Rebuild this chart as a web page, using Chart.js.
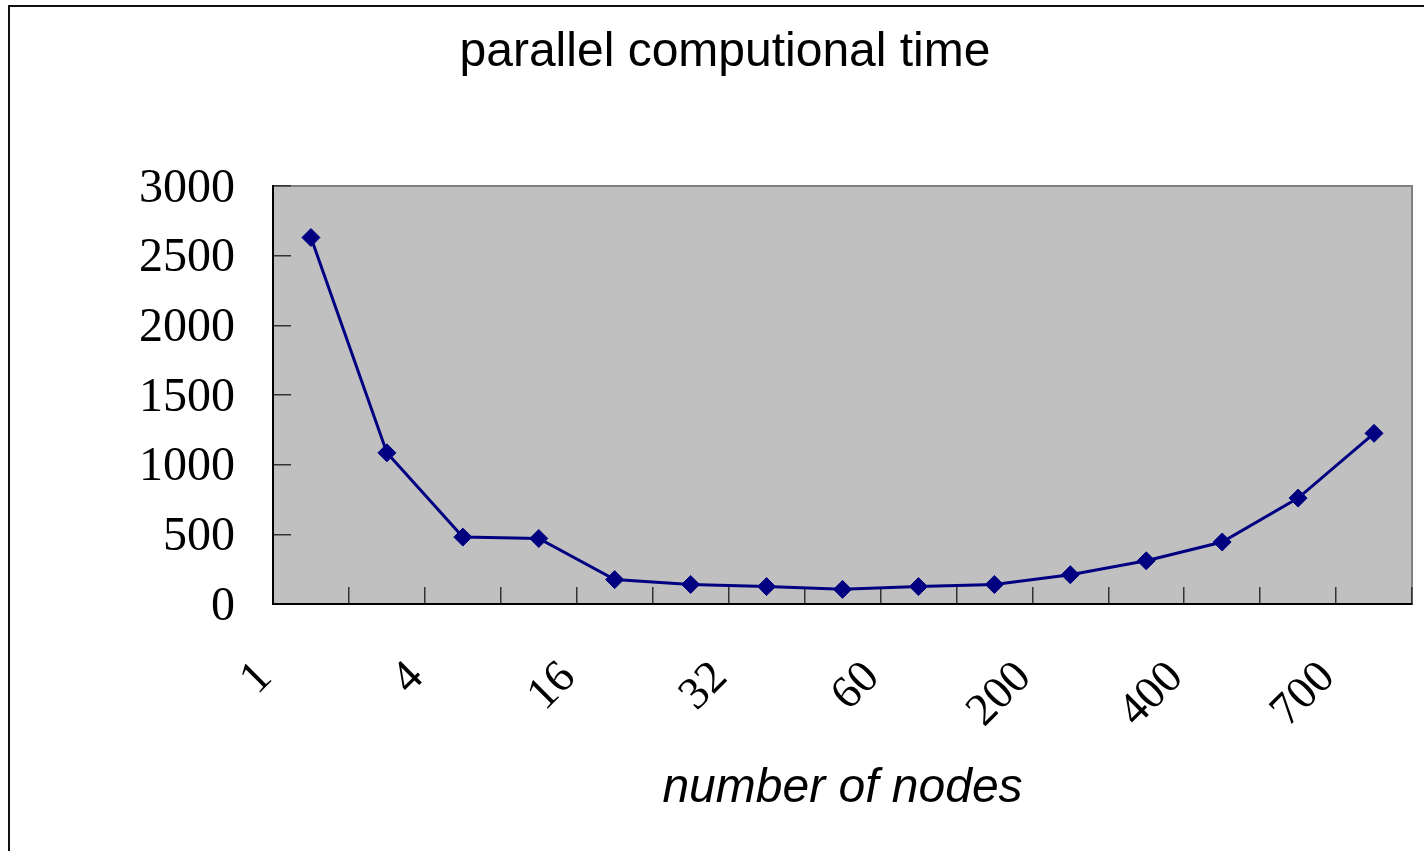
<!DOCTYPE html>
<html>
<head>
<meta charset="utf-8">
<script src="https://cdn.jsdelivr.net/npm/chart.js@4/dist/chart.umd.min.js"></script>
<style>
  html, body { margin: 0; padding: 0; background: #fff; overflow: hidden; }
  canvas { display: block; }
</style>
</head>
<body>
<canvas id="chart" width="1424" height="851"></canvas>
<script>
// Node counts on the category axis and the measured run times
const nodeCounts = ['1', '2', '4', '8', '16', '24', '32', '48', '60', '100', '200', '300', '400', '500', '700'];
const computeTimes = [2630, 1085, 480, 470, 175, 140, 125, 105, 125, 140, 210, 310, 445, 760, 1225];
const yTickValues = [0, 500, 1000, 1500, 2000, 2500, 3000];
const chartTitle = 'parallel computional time';
const xAxisTitle = 'number of nodes';

// Grey plot background, grey top/right edges and the outer frame
const plotFrame = {
  id: 'plotFrame',
  beforeDraw(chart) {
    const { ctx, chartArea: a } = chart;
    ctx.save();
    ctx.fillStyle = '#ffffff';
    ctx.fillRect(0, 0, chart.width, chart.height);
    ctx.strokeStyle = '#111111';
    ctx.lineWidth = 2;
    ctx.beginPath();
    ctx.moveTo(9, chart.height + 5);
    ctx.lineTo(9, 6);
    ctx.lineTo(chart.width + 5, 6);
    ctx.stroke();
    ctx.fillStyle = '#c0c0c0';
    ctx.fillRect(a.left, a.top, a.right - a.left, a.bottom - a.top);
    ctx.strokeStyle = '#808080';
    ctx.lineWidth = 2;
    ctx.beginPath();
    ctx.moveTo(a.left, a.top);
    ctx.lineTo(a.right, a.top);
    ctx.lineTo(a.right, a.bottom);
    ctx.stroke();
    ctx.restore();
  }
};

new Chart(document.getElementById('chart'), {
  type: 'line',
  data: {
    labels: nodeCounts,
    datasets: [{
      data: computeTimes,
      borderColor: '#000080',
      backgroundColor: '#000080',
      borderWidth: 3,
      tension: 0,
      pointStyle: 'rectRot',
      pointRadius: 9,
      pointBorderWidth: 1,
      pointBackgroundColor: '#000080',
      pointBorderColor: '#000080',
      clip: false
    }]
  },
  options: {
    responsive: false,
    animation: false,
    devicePixelRatio: 1,
    layout: { padding: { left: 38, right: 12, top: 0, bottom: 0 } },
    plugins: {
      legend: { display: false },
      tooltip: { enabled: false },
      title: {
        display: true,
        text: chartTitle,
        color: '#000',
        font: { family: 'Liberation Sans', size: 48, weight: 'normal' },
        padding: { top: 24, bottom: 104.4 }
      }
    },
    scales: {
      x: {
        type: 'category',
        offset: true,
        grid: {
          display: true, offset: true, drawOnChartArea: false, drawTicks: true,
          tickLength: -17, color: '#333', lineWidth: 1.5
        },
        border: { display: true, color: '#000', width: 2 },
        ticks: {
          autoSkip: false, minRotation: 45, maxRotation: 45,
          padding: 64, labelOffset: -46, color: '#000',
          font: { family: 'Liberation Serif', size: 46 },
          callback: (v, i) => (i % 2 === 0 ? nodeCounts[i] : '')
        },
        title: {
          display: true, text: xAxisTitle, color: '#000',
          font: { family: 'Liberation Sans', size: 48, style: 'italic' },
          padding: { top: 0, bottom: 34 }
        },
        afterFit(s) {
          s.height = 247;
          s.paddingLeft = 0;
          s.paddingRight = 0;
        }
      },
      y: {
        min: 0, max: 3000,
        afterBuildTicks(s) { s.ticks = yTickValues.map(v => ({ value: v })); },
        grid: { drawOnChartArea: false, tickLength: -18, color: '#333', lineWidth: 1.5 },
        border: { display: true, color: '#000', width: 2 },
        ticks: {
          padding: 56, labelOffset: 3, color: '#000',
          font: { family: 'Liberation Serif', size: 48 },
          callback: v => String(v)
        },
        afterFit(s) {
          s.width = 235;
          s.paddingTop = 0;
          s.paddingBottom = 0;
        }
      }
    }
  },
  plugins: [plotFrame]
});
</script>
</body>
</html>
